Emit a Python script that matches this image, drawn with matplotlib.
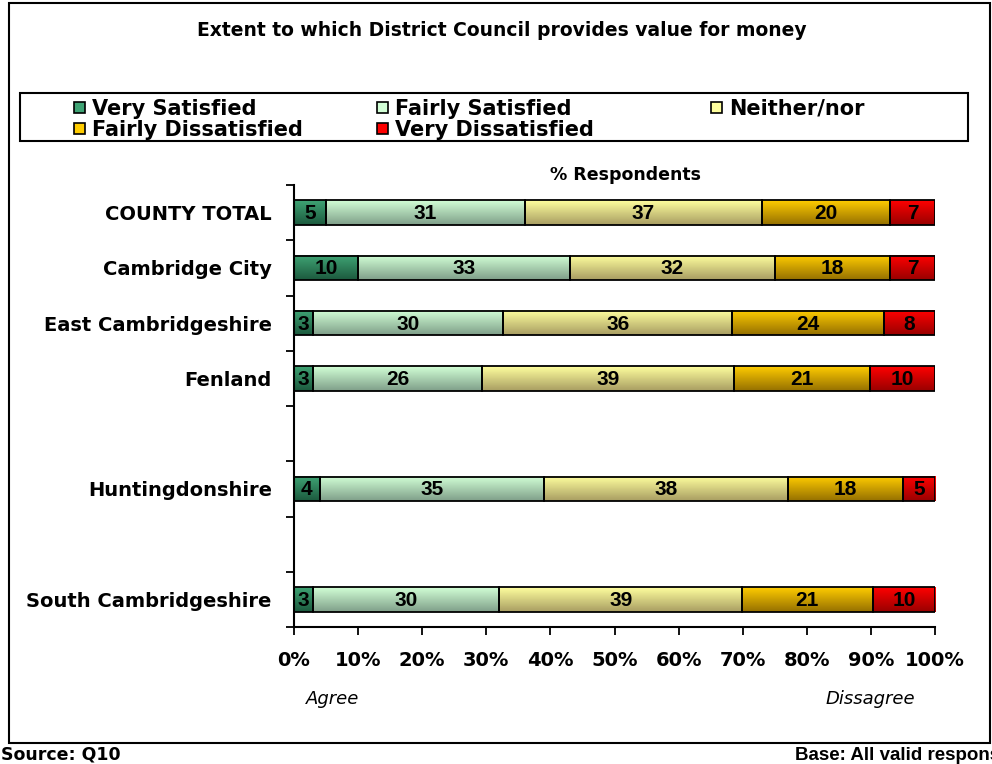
import numpy as np
import matplotlib.pyplot as plt
from matplotlib.colors import LinearSegmentedColormap
from matplotlib.patches import Rectangle

plt.rcParams['font.family'] = ['DejaVu Sans']

districts = ["COUNTY TOTAL", "Cambridge City", "East Cambridgeshire", "Fenland",
             "", "Huntingdonshire", "", "South Cambridgeshire"]
very_sat = [5, 10, 3, 3, np.nan, 4, np.nan, 3]
fairly_sat = [31, 33, 30, 26, np.nan, 35, np.nan, 30]
neither = [37, 32, 36, 39, np.nan, 38, np.nan, 39]
fairly_dis = [20, 18, 24, 21, np.nan, 18, np.nan, 21]
very_dis = [7, 7, 8, 10, np.nan, 5, np.nan, 10]

series_names = ["Very Satisfied", "Fairly Satisfied", "Neither/nor",
                "Fairly Dissatisfied", "Very Dissatisfied"]
# (top, bottom) colours of the shaded fill
shades = [("#3fa374", "#1c5a3e"), ("#d2ffd6", "#7f9f89"), ("#ffff9e", "#a89d62"),
          ("#ffcc00", "#957000"), ("#ff0000", "#990000")]
pct_ticks = ["0%", "10%", "20%", "30%", "40%", "50%", "60%", "70%", "80%", "90%", "100%"]

W, H = 992, 764
fig = plt.figure(figsize=(W / 100, H / 100), dpi=100)


def fx(x):
    return x / W


def fy(y):
    return 1 - y / H


ax = fig.add_axes([fx(294), fy(627), fx(935) - fx(294), fy(185) - fy(627)])

data = np.array([very_sat, fairly_sat, neither, fairly_dis, very_dis], dtype=float)
totals = np.nansum(data, axis=0)
totals[totals == 0] = 1
shares = data / totals * 100
ypos = np.arange(len(districts))
grad = np.linspace(0, 1, 64).reshape(-1, 1)

left = np.zeros(len(districts))
for i, name in enumerate(series_names):
    widths = np.nan_to_num(shares[i])
    bars = ax.barh(ypos, widths, left=left, height=0.44, facecolor="none",
                   edgecolor="black", linewidth=1.3, zorder=3)
    cmap = LinearSegmentedColormap.from_list(name, [shades[i][0], shades[i][1]])
    for j, bar in enumerate(bars):
        if np.isnan(data[i][j]):
            bar.set_visible(False)
            continue
        x0, y0 = bar.get_x(), bar.get_y()
        x1, y1 = x0 + bar.get_width(), y0 + bar.get_height()
        ax.imshow(grad, extent=[x0, x1, y1, y0], aspect="auto", cmap=cmap,
                  interpolation="bilinear", zorder=2)
        ax.text((x0 + x1) / 2, ypos[j] + 0.02, f"{int(data[i][j])}", ha="center",
                va="center", fontsize=15, fontweight="bold", zorder=4,
                family=["Liberation Sans", "DejaVu Sans"])
    left += widths

ax.set_xlim(0, 100)
ax.set_ylim(len(districts) - 0.5, -0.5)
ax.set_xticks(np.arange(0, 101, 10))
ax.set_xticklabels(pct_ticks, fontsize=14, fontweight="bold")
ax.set_yticks(np.arange(len(districts) + 1) - 0.5)
ax.set_yticklabels([])
ax.set_yticks(ypos, minor=True)
ax.set_yticklabels(districts, minor=True, fontsize=14, fontweight="bold")
ax.tick_params(axis="y", which="minor", length=0, pad=16)
ax.tick_params(axis="both", which="major", length=6, width=1.3, direction="out")
ax.tick_params(axis="x", pad=11)
for side in ["top", "right"]:
    ax.spines[side].set_visible(False)
for side in ["left", "bottom"]:
    ax.spines[side].set_linewidth(1.5)

# outer frame and legend box
fig.patches.append(Rectangle((fx(9), fy(743)), fx(990) - fx(9), fy(3) - fy(743),
                             transform=fig.transFigure, fill=False,
                             edgecolor="black", linewidth=1.5))
fig.patches.append(Rectangle((fx(20), fy(141)), fx(968) - fx(20), fy(93) - fy(141),
                             transform=fig.transFigure, fill=False,
                             edgecolor="black", linewidth=1.5))

legend_spots = [(74, 108), (377, 108), (711, 108), (74, 129), (377, 129)]
for (px, py), name, (top, bottom) in zip(legend_spots, series_names, shades):
    fig.patches.append(Rectangle((fx(px), fy(py + 5)), fx(11), 11 / H,
                                 transform=fig.transFigure, facecolor=top,
                                 edgecolor="black", linewidth=1.2))
    fig.text(fx(px + 18), fy(py + 1), name, fontsize=15, fontweight="bold",
             va="center", ha="left")

fig.text(fx(502), fy(30), "Extent to which District Council provides value for money",
         fontsize=13.5, fontweight="bold", ha="center", va="center")
fig.text(fx(625), fy(175), "% Respondents", fontsize=12.5, fontweight="bold",
         ha="center", va="center")
fig.text(fx(333), fy(699), "Agree", fontsize=13, style="italic", ha="center", va="center")
fig.text(fx(870), fy(699), "Dissagree", fontsize=13, style="italic", ha="center", va="center")
fig.text(fx(1), fy(755), "Source: Q10", fontsize=12.5, fontweight="bold",
         ha="left", va="center")
fig.text(fx(795), fy(755), "Base: All valid responses", fontsize=13.5, fontweight="bold",
         ha="left", va="center", family=["Liberation Sans", "DejaVu Sans"])

fig.savefig("out.png", dpi=100)
